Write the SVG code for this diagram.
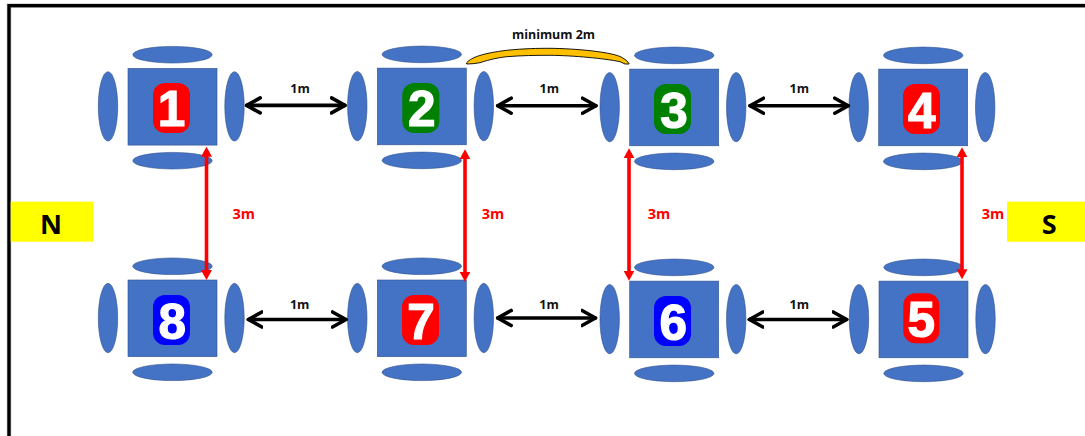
<svg xmlns="http://www.w3.org/2000/svg" width="1085" height="436" viewBox="0 0 1085 436">
<style>
.b{fill:#4472c4;stroke:#2f528f;stroke-width:.6}
.d{font:bold 49.500px "Liberation Sans",Arial,sans-serif;fill:#fff;stroke:#fff;stroke-width:1.200;text-anchor:middle}
.k{fill:none;stroke:#000;stroke-width:3.600;stroke-linecap:round}
.r{fill:none;stroke:#f00;stroke-width:3.600}
.t{font:700 11.500px "Open Sans",sans-serif;fill:#111;text-anchor:middle}
.rt{font:700 14px "Open Sans",sans-serif;fill:#f00;text-anchor:middle}
.c{font:700 27px "Open Sans",sans-serif;fill:#000;text-anchor:middle}
</style>
<defs>
<g id="body">
<rect class="b" x="0" y="13.700" width="89" height="76.700"/>
<ellipse class="b" cx="44.500" cy="0" rx="39.700" ry="8.300"/>
<ellipse class="b" cx="44.500" cy="106" rx="39.700" ry="8.300"/>
<ellipse class="b" cx="-20" cy="51.700" rx="9.700" ry="34.700"/>
<ellipse class="b" cx="106.500" cy="51.700" rx="9.700" ry="34.700"/>
</g>
<marker id="ko" viewBox="0 0 20 20" refX="15" refY="10" markerWidth="20" markerHeight="20" markerUnits="userSpaceOnUse" orient="auto-start-reverse"><path d="M1.500 2.500 15 10 1.500 17.500" fill="none" stroke="#000" stroke-width="3.600" stroke-linecap="round" stroke-linejoin="round"/></marker>
<marker id="rf" viewBox="0 0 12 12" refX="6" refY="6" markerWidth="12" markerHeight="12" markerUnits="userSpaceOnUse" orient="auto-start-reverse"><path d="M0 .500 10 6 0 11.500Z" fill="#f00"/></marker>
</defs>
<rect width="1085" height="436" fill="#fff"/>
<g id="frame"><path d="M1085 5.700H9V436" fill="none" stroke="#bbb" stroke-width="4.500"/><path d="M1085 5.700H9V436" fill="none" stroke="#000" stroke-width="3.300"/></g>
<g id="N"><rect x="10.700" y="201.700" width="82.300" height="40" fill="#ff0"/><text class="c" x="51" y="234.300">N</text></g>
<g id="S"><rect x="1007" y="201.700" width="78" height="40" fill="#ff0"/><text class="c" x="1049.300" y="234.300">S</text></g>
<g id="node1"><use href="#body" x="128" y="54.700"/><rect x="153" y="83" width="37" height="50" rx="12" fill="#f00"/><text class="d" x="171.500" y="126">1</text></g>
<g id="node2"><use href="#body" x="377.300" y="54.400"/><rect x="402.300" y="83" width="37" height="50" rx="12" fill="#008000"/><text class="d" x="421.700" y="126">2</text></g>
<g id="node3"><use href="#body" x="629.700" y="55.400"/><rect x="654" y="84" width="37" height="50" rx="12" fill="#008000"/><text class="d" x="674" y="127.500">3</text></g>
<g id="node4"><use href="#body" x="878.700" y="55.400"/><rect x="903" y="84" width="37" height="50" rx="12" fill="#f00"/><text class="d" x="921.700" y="127.500">4</text></g>
<g id="node5"><use href="#body" x="879" y="267.400"/><rect x="903.300" y="293.300" width="36" height="50" rx="12" fill="#f00"/><text class="d" x="921.300" y="337">5</text></g>
<g id="node6"><use href="#body" x="629.700" y="267.400"/><rect x="654" y="296" width="37" height="50" rx="12" fill="#00f"/><text class="d" x="673.300" y="339.500">6</text></g>
<g id="node7"><use href="#body" x="377.300" y="266.300"/><rect x="402" y="295" width="37" height="50" rx="12" fill="#f00"/><text class="d" x="421" y="338.500">7</text></g>
<g id="node8"><use href="#body" x="128" y="266.300"/><rect x="153" y="295" width="37" height="50" rx="12" fill="#00f"/><text class="d" x="172.300" y="338.500">8</text></g>
<g id="connectors">
<path class="k" d="M246.700 105.400H345" marker-start="url(#ko)" marker-end="url(#ko)"/>
<path class="k" d="M497.700 105.700H596" marker-start="url(#ko)" marker-end="url(#ko)"/>
<path class="k" d="M750 105.700H848.300" marker-start="url(#ko)" marker-end="url(#ko)"/>
<path class="k" d="M248.400 319.500H346" marker-start="url(#ko)" marker-end="url(#ko)"/>
<path class="k" d="M497.700 318H595.500" marker-start="url(#ko)" marker-end="url(#ko)"/>
<path class="k" d="M749.400 319.500H846.700" marker-start="url(#ko)" marker-end="url(#ko)"/>
<path class="r" d="M206.500 150.700V276" marker-start="url(#rf)" marker-end="url(#rf)"/>
<path class="r" d="M465 153.300V277.700" marker-start="url(#rf)" marker-end="url(#rf)"/>
<path class="r" d="M629 152.300V276.700" marker-start="url(#rf)" marker-end="url(#rf)"/>
<path class="r" d="M962 151.300V275.300" marker-start="url(#rf)" marker-end="url(#rf)"/>
</g>
<g id="brace"><path d="M466.700 62.700C472 57 483 53.300 506.700 50.300C525 48.500 537 48.300 550 48.300C575 48.500 613 52 622 57.500Q627 60 629 63.500V64H625L620 61.700C605 58.500 573 55.500 550 55.300C535 55.300 522 55.500 506.700 56.700C495 58 485 61 480 62.700Q473 64 466.700 64Z" fill="#ffc000" stroke="#000" stroke-width=".9"/></g>
<g id="labels">
<text class="t" x="553.500" y="39" textLength="83" lengthAdjust="spacingAndGlyphs">minimum 2m</text>
<text class="t" x="300" y="92.700" textLength="19.500" lengthAdjust="spacingAndGlyphs">1m</text><text class="t" x="549.300" y="92.700" textLength="19.500" lengthAdjust="spacingAndGlyphs">1m</text><text class="t" x="799.300" y="92.700" textLength="19.500" lengthAdjust="spacingAndGlyphs">1m</text>
<text class="t" x="299.700" y="309.300" textLength="19.500" lengthAdjust="spacingAndGlyphs">1m</text><text class="t" x="549" y="309.300" textLength="19.500" lengthAdjust="spacingAndGlyphs">1m</text><text class="t" x="799.300" y="309.300" textLength="19.500" lengthAdjust="spacingAndGlyphs">1m</text>
<text class="rt" x="243.700" y="219" textLength="22.500" lengthAdjust="spacingAndGlyphs">3m</text><text class="rt" x="493" y="219" textLength="22.500" lengthAdjust="spacingAndGlyphs">3m</text><text class="rt" x="659" y="219" textLength="22.500" lengthAdjust="spacingAndGlyphs">3m</text><text class="rt" x="993" y="219.300" textLength="22.500" lengthAdjust="spacingAndGlyphs">3m</text>
</g>
</svg>
